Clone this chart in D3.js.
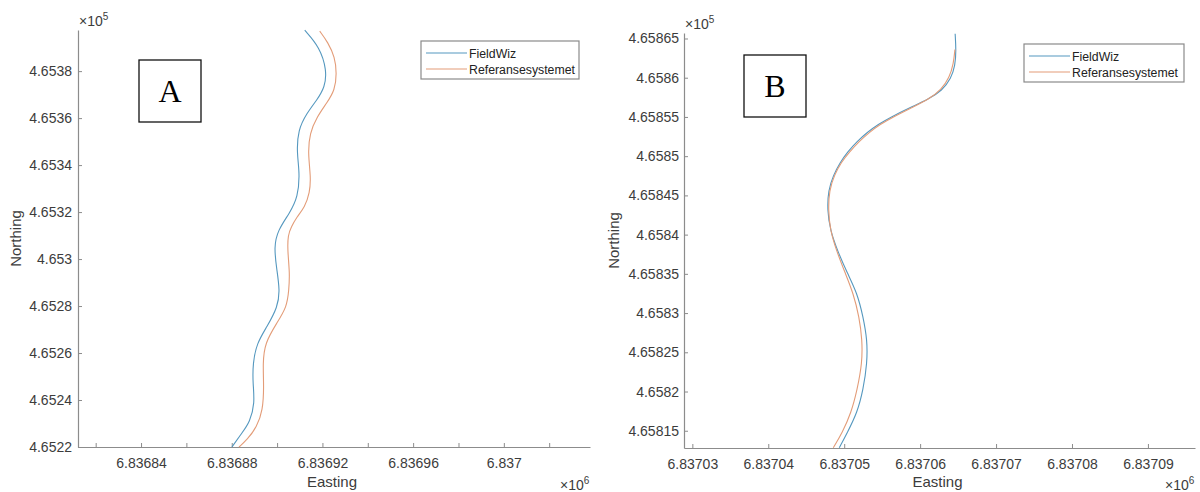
<!DOCTYPE html>
<html>
<head>
<meta charset="utf-8">
<script src="https://cdn.jsdelivr.net/npm/d3@7"></script>
<style>
  html, body { margin: 0; padding: 0; background: #fff; }
  svg { display: block; }
  text { font-family: "Liberation Sans", Arial, sans-serif; }
</style>
</head>
<body>
<svg id="chart" width="1200" height="492"></svg>
<script>
// ---------- DATA (metres: easting, northing) ----------
const seriesNames = ["FieldWiz", "Referansesystemet"];

// Panel A
const aFieldWizE = [6836880.1, 6836884.5, 6836888.0, 6836890.2, 6836889.3, 6836889.3, 6836891.1, 6836895.5, 6836900.3, 6836901.2, 6836899.9, 6836898.6, 6836900.3, 6836905.6, 6836909.2, 6836910.0, 6836908.7, 6836909.2, 6836913.1, 6836917.5, 6836921.1, 6836921.9, 6836918.8, 6836912.2];
const aFieldWizN = [465220.0, 465226.0, 465230.6, 465238.7, 465247.2, 465255.7, 465264.3, 465271.1, 465279.6, 465286.8, 465295.3, 465305.1, 465312.3, 465319.6, 465326.4, 465336.6, 465345.1, 465354.9, 465362.1, 465367.6, 465373.2, 465380.4, 465390.2, 465397.4];
const aRefE = [6836883.2, 6836886.7, 6836891.1, 6836893.7, 6836894.2, 6836893.7, 6836894.6, 6836899.9, 6836904.3, 6836905.2, 6836905.6, 6836904.6, 6836904.8, 6836906.2, 6836908.7, 6836912.2, 6836914.4, 6836914.9, 6836913.6, 6836914.4, 6836917.5, 6836921.9, 6836925.5, 6836926.3, 6836925.5, 6836922.4, 6836918.8];
const aRefN = [465220.0, 465223.0, 465228.5, 465235.7, 465245.5, 465255.7, 465264.3, 465272.8, 465279.6, 465286.8, 465294.0, 465303.8, 465310.2, 465313.6, 465317.9, 465322.1, 465328.1, 465334.9, 465345.1, 465353.6, 465360.4, 465366.4, 465371.9, 465379.1, 465385.9, 465392.3, 465397.0];
const aXDomain = [6836812.2, 6837038.0];
const aYDomain = [465220.0, 465397.5];
const aXTicks = [6836820, 6836840, 6836860, 6836880, 6836900, 6836920, 6836940, 6836960, 6836980, 6837000, 6837020];
const aXTickLabels = ["", "6.83684", "", "6.83688", "", "6.83692", "", "6.83696", "", "6.837", ""];
const aYTicks = [465220, 465240, 465260, 465280, 465300, 465320, 465340, 465360, 465380];
const aYTickLabels = ["4.6522", "4.6524", "4.6526", "4.6528", "4.653", "4.6532", "4.6534", "4.6536", "4.6538"];

// Panel B
const bFieldWizE = [6837049.35, 6837050.40, 6837051.71, 6837052.50, 6837053.03, 6837053.03, 6837052.50, 6837051.71, 6837050.40, 6837049.08, 6837048.16, 6837047.77, 6837047.90, 6837048.56, 6837049.48, 6837050.40, 6837051.71, 6837053.03, 6837054.48, 6837056.06, 6837058.69, 6837061.05, 6837062.90, 6837064.08, 6837064.61, 6837064.74, 6837064.61];
const bFieldWizN = [465812.84, 465814.75, 465817.29, 465820.22, 465823.65, 465826.58, 465829.50, 465832.55, 465835.10, 465838.02, 465840.57, 465843.11, 465845.66, 465847.56, 465849.22, 465850.49, 465851.89, 465853.03, 465854.05, 465854.94, 465856.21, 465857.23, 465858.37, 465859.90, 465861.55, 465863.46, 465865.60];
const bRefE = [6837048.56, 6837049.74, 6837050.92, 6837051.71, 6837052.37, 6837052.37, 6837051.98, 6837051.19, 6837050.13, 6837048.95, 6837048.16, 6837047.90, 6837048.03, 6837048.69, 6837049.61, 6837050.66, 6837051.98, 6837053.29, 6837054.74, 6837056.32, 6837058.95, 6837061.20, 6837062.80, 6837063.85, 6837064.40, 6837064.58];
const bRefN = [465812.84, 465814.75, 465817.29, 465820.22, 465823.65, 465826.58, 465829.50, 465832.55, 465835.10, 465838.02, 465840.57, 465843.11, 465845.66, 465847.56, 465849.22, 465850.49, 465851.89, 465853.03, 465854.05, 465854.94, 465856.21, 465857.30, 465858.50, 465860.00, 465861.80, 465863.60];
const bXDomain = [6837028.9, 6837096.2];
const bYDomain = [465812.8, 465865.7];
const bXTicks = [6837030, 6837040, 6837050, 6837060, 6837070, 6837080, 6837090];
const bXTickLabels = ["6.83703", "6.83704", "6.83705", "6.83706", "6.83707", "6.83708", "6.83709"];
const bYTicks = [465815, 465820, 465825, 465830, 465835, 465840, 465845, 465850, 465855, 465860, 465865];
const bYTickLabels = ["4.65815", "4.6582", "4.65825", "4.6583", "4.65835", "4.6584", "4.65845", "4.6585", "4.65855", "4.6586", "4.65865"];

// ---------- STYLE ----------
const colors = ["#5598bf", "#e39c78"];
const axisColor = "#8c8c8c";
const textColor = "#3c3c3c";

const svg = d3.select("#chart");

function drawPanel(p) {
  const x = d3.scaleLinear().domain(p.xDomain).range([p.left, p.right]);
  const y = d3.scaleLinear().domain(p.yDomain).range([p.bottom, p.top]);
  const g = svg.append("g");

  const xAxis = d3.axisBottom(x)
    .tickValues(p.xTicks)
    .tickFormat((d, i) => p.xLabels[i])
    .tickSizeInner(-4).tickSizeOuter(0).tickPadding(11);
  const gx = g.append("g").attr("transform", `translate(0,${p.bottom})`).call(xAxis);
  const yAxis = d3.axisLeft(y)
    .tickValues(p.yTicks)
    .tickFormat((d, i) => p.yLabels[i])
    .tickSizeInner(-4).tickSizeOuter(0).tickPadding(p.yPad);
  const gy = g.append("g").attr("transform", `translate(${p.left},0)`).call(yAxis);

  [gx, gy].forEach(a => {
    a.select(".domain").attr("stroke", axisColor).attr("stroke-width", 1.2);
    a.selectAll(".tick line").attr("stroke", axisColor).attr("stroke-width", 1);
    a.selectAll(".tick text").attr("fill", textColor)
      .style("font-family", "'Liberation Sans', Arial, sans-serif").style("font-size", "14px");
  });

  const line = d3.line().x(d => x(d[0])).y(d => y(d[1])).curve(d3.curveBasis);
  p.series.forEach((s, i) => {
    const pts = s.e.map((e, j) => [e, s.n[j]]);
    g.append("path").datum(pts)
      .attr("d", line)
      .attr("fill", "none")
      .attr("stroke", colors[i])
      .attr("stroke-width", 1.1);
  });

  g.append("text").attr("x", (p.left + p.right) / 2 - 2).attr("y", 487)
    .attr("text-anchor", "middle").attr("fill", textColor).style("font-size", "15px").text("Easting");
  g.append("text").attr("transform", `translate(${p.left - 57 - p.yExtra},${(p.top + p.bottom) / 2}) rotate(-90)`)
    .attr("text-anchor", "middle").attr("fill", textColor).style("font-size", "15px").text("Northing");

  const e5 = g.append("text").attr("x", p.left + 1).attr("y", p.top - 4).attr("fill", textColor).style("font-size", "14px");
  e5.append("tspan").text("\u00d710");
  e5.append("tspan").attr("dy", -6).style("font-size", "10px").text("5");
  const e6 = g.append("text").attr("x", p.right - 30).attr("y", 490).attr("fill", textColor).style("font-size", "14px");
  e6.append("tspan").text("\u00d710");
  e6.append("tspan").attr("dy", -6).style("font-size", "10px").text("6");

  g.append("rect").attr("x", p.box[0]).attr("y", p.box[1]).attr("width", 62).attr("height", 62)
    .attr("fill", "#fff").attr("stroke", "#111").attr("stroke-width", 1.3);
  g.append("text").attr("x", p.box[0] + 31).attr("y", p.box[1] + 42)
    .attr("text-anchor", "middle").attr("fill", "#000")
    .style("font-family", "'Liberation Serif', 'Times New Roman', serif").style("font-size", "32px")
    .text(p.letter);

  const lg = g.append("g").attr("transform", `translate(${p.legend[0]},${p.legend[1]})`);
  lg.append("rect").attr("x", 0).attr("y", 0).attr("width", p.legend[2]).attr("height", 38)
    .attr("fill", "#fff").attr("stroke", "#8a8a8a").attr("stroke-width", 1.2);
  seriesNames.forEach((name, i) => {
    const cy = 12 + i * 16;
    lg.append("line").attr("x1", 5).attr("x2", 46).attr("y1", cy).attr("y2", cy)
      .attr("stroke", colors[i]).attr("stroke-width", 1.1);
    lg.append("text").attr("x", 48).attr("y", cy + 4.5).attr("fill", "#222")
      .style("font-size", "12.3px").text(name);
  });
}

drawPanel({
  left: 78, right: 590, top: 30, bottom: 447, yPad: 6, yExtra: 0,
  xDomain: aXDomain, yDomain: aYDomain,
  xTicks: aXTicks, xLabels: aXTickLabels, yTicks: aYTicks, yLabels: aYTickLabels,
  series: [{ e: aFieldWizE, n: aFieldWizN }, { e: aRefE, n: aRefN }],
  box: [139, 60], letter: "A", legend: [421, 41, 158]
});

drawPanel({
  left: 684, right: 1195, top: 33, bottom: 448, yPad: 5, yExtra: 8,
  xDomain: bXDomain, yDomain: bYDomain,
  xTicks: bXTicks, xLabels: bXTickLabels, yTicks: bYTicks, yLabels: bYTickLabels,
  series: [{ e: bFieldWizE, n: bFieldWizN }, { e: bRefE, n: bRefN }],
  box: [744, 55], letter: "B", legend: [1024, 44, 160]
});
</script>
</body>
</html>
